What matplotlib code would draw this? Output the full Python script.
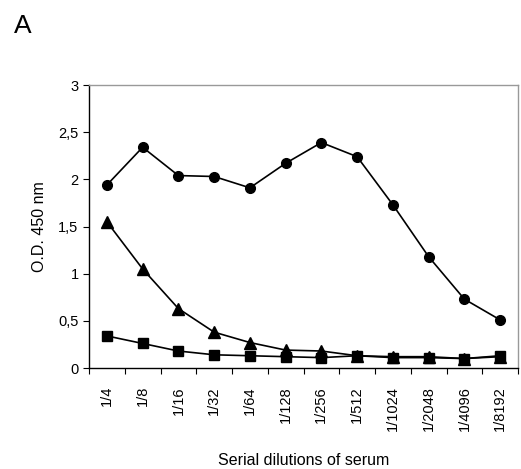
import numpy as np
import matplotlib
matplotlib.use("Agg")
import matplotlib.pyplot as plt
from matplotlib.ticker import FuncFormatter

plt.rcParams['font.family'] = ['Liberation Sans', 'DejaVu Sans']

dilutions = ["1/4", "1/8", "1/16", "1/32", "1/64", "1/128", "1/256",
             "1/512", "1/1024", "1/2048", "1/4096", "1/8192"]
circle_od   = [1.94, 2.34, 2.04, 2.03, 1.91, 2.17, 2.39, 2.24, 1.73, 1.18, 0.73, 0.51]
triangle_od = [1.55, 1.05, 0.63, 0.38, 0.27, 0.19, 0.18, 0.13, 0.12, 0.12, 0.10, 0.12]
square_od   = [0.34, 0.26, 0.18, 0.14, 0.13, 0.12, 0.11, 0.13, 0.11, 0.11, 0.10, 0.13]
y_ticks     = [0, 0.5, 1, 1.5, 2, 2.5, 3]

fig = plt.figure(figsize=(5.21, 4.69), dpi=100)
ax = fig.add_axes([89 / 521, 1 - 368 / 469, 429 / 521, 283 / 469])

x = np.arange(len(dilutions))
ax.plot(x, circle_od, color="black", lw=1.2, marker="o", ms=7)
ax.plot(x, triangle_od, color="black", lw=1.2, marker="^", ms=8)
ax.plot(x, square_od, color="black", lw=1.2, marker="s", ms=7)

ax.set_xlim(-0.5, len(dilutions) - 0.5)
ax.set_ylim(0, 3)
ax.set_yticks(y_ticks)
ax.yaxis.set_major_formatter(FuncFormatter(lambda v, p: f"{v:g}".replace(".", ",")))

# Excel style: ticks between categories, labels at the centres
ax.set_xticks(np.arange(len(dilutions) + 1) - 0.5)
ax.set_xticklabels([])
ax.set_xticks(x, minor=True)
ax.set_xticklabels(dilutions, minor=True, rotation=90, fontsize=10.5)
ax.tick_params(axis="x", which="minor", length=0, pad=13)
ax.tick_params(axis="x", which="major", length=4, width=0.8, direction="out")
ax.tick_params(axis="y", length=4, width=0.8, direction="out", labelsize=10.5)

for s in ["top", "right"]:
    ax.spines[s].set_color("#999999")
    ax.spines[s].set_linewidth(1.0)
for s in ["left", "bottom"]:
    ax.spines[s].set_color("black")
    ax.spines[s].set_linewidth(1.0)

ax.set_ylabel("O.D. 450 nm", fontsize=11.5, labelpad=8)
ax.set_xlabel("Serial dilutions of serum", fontsize=11.5, labelpad=16)

fig.text(14 / 521, 1 - 33 / 469, "A", fontsize=19)

fig.savefig("out.png", dpi=100)
